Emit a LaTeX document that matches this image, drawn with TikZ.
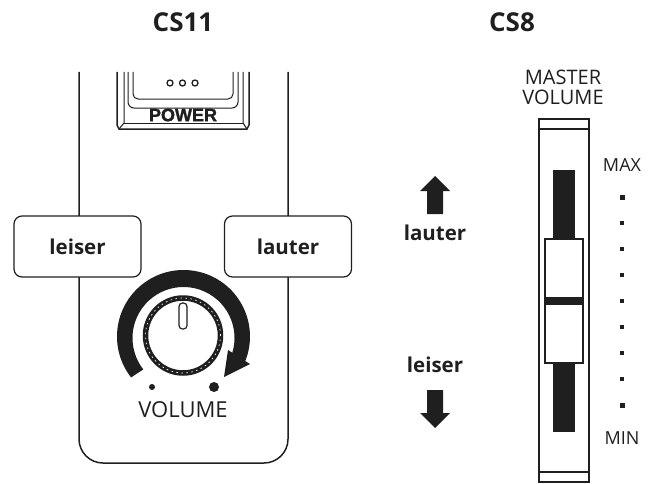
\documentclass[tikz,border=0pt]{standalone}
\usepackage{fontspec}
\usetikzlibrary{calc}
\setmainfont{Open Sans}
\newfontfamily\powerfont[BoldFeatures={FakeBold=1.5}]{Liberation Sans}
\begin{document}
\begin{tikzpicture}[
    x=1pt,y=1pt,
    inkblack/.style={black!88},
    outline/.style={draw=black!88,line width=1.5pt},
    thinline/.style={draw=black!88,line width=1pt},
    title/.style={text=black!88,font=\fontsize{26}{26}\selectfont\bfseries},
    sidelabel/.style={text=black!88,font=\fontsize{20.5}{20.5}\selectfont\bfseries},
    keybox/.style={
      draw=black!88,
      line width=1.2pt,
      fill=white,
      rounded corners=8pt,
      minimum width=127pt,
      minimum height=61pt,
      inner sep=0pt,
      text=black!88,
      font=\fontsize{20.5}{20.5}\selectfont\bfseries
    },
    marking/.style={text=black!88,font=\fontsize{18}{18}\selectfont,inner sep=0pt}
  ]
  \useasboundingbox (0,0) rectangle (652,483);
  \node[title] (cs11) at (183,461) {CS11};
  \node[title] (cs8) at (512,461) {CS8};
  \draw[outline,rounded corners=24pt] (79,411) -- (79,20) -- (288,20) -- (288,411);
  \draw[outline] (117,411) -- (117,358) -- (119,354) -- (247,354) -- (249,358) -- (249,411);
  \draw[thinline] (124,411) -- (124,360) -- (119,354);
  \draw[thinline] (243,411) -- (243,360) -- (247,354);
  \draw[thinline] (124,360) -- (243,360);
  \draw[thinline,rounded corners=6pt] (128,411) -- (128,375) -- (238,375) -- (238,411);
  \draw[thinline,rounded corners=5pt] (133,411) -- (133,384) -- (233,384) -- (233,411);
  \foreach \dotx in {170,182.5,195}
    \draw[line width=1.3pt,draw=black!88] (\dotx,400) circle (3pt);
  \node[inner sep=0pt,text=black!88,font=\powerfont\fontsize{18}{18}\selectfont\bfseries] (power) at (183,368) {POWER};
  \node[keybox] (leiserkey) at (77.5,236.5) {leiser};
  \node[keybox] (lauterkey) at (288,236.5) {lauter};
  \fill[inkblack] (183.5,146.5) ++(218:66.5) arc (218:-24:66.5) -- ($(183.5,145)+(-24:51)$) arc (-24:218:51) -- cycle;
  \fill[inkblack] (224,106) -- (250,119) -- (228,133) -- cycle;
  \draw[line width=5.5pt,draw=black!88] (183,147.5) circle (37.5pt);
  \draw[line width=0.7pt,draw=white,dash pattern=on 1.5pt off 3.5pt] (183,147.5) circle (37.5pt);
  \draw[line width=1.2pt,draw=black!88,rounded corners=3.5pt] (179,180) rectangle (187,154);
  \fill[inkblack] (152,96) circle (3pt);
  \fill[inkblack] (214,96) circle (5pt);
  \node[inner sep=0pt,text=black!88,font=\fontsize{22}{22}\selectfont] (volume) at (183,73) {VOLUME};
  \fill[inkblack] (435,307) -- (450,292) -- (443,292) -- (443,269) -- (427,269) -- (427,292) -- (420,292) -- cycle;
  \node[sidelabel] (lautertext) at (435,250) {lauter};
  \node[sidelabel] (leisertext) at (435,118) {leiser};
  \fill[inkblack] (435,55) -- (450,70) -- (443,70) -- (443,93) -- (427,93) -- (427,70) -- (420,70) -- cycle;
  \node[marking,align=center,font=\fontsize{20}{20}\selectfont] (master) at (563,396) {MASTER\\VOLUME};
  \draw[outline] (539,1) rectangle (589,364);
  \draw[outline] (539,354) -- (589,354);
  \draw[outline] (539,11) -- (589,11);
  \fill[inkblack] (553,244) rectangle (575,313);
  \fill[inkblack] (553,51) rectangle (575,120);
  \draw[outline,fill=white] (545,120) rectangle (583,244);
  \fill[inkblack] (545,178) rectangle (583,186);
  \node[marking] (maxlabel) at (622,318) {MAX};
  \node[marking] (minlabel) at (622,45) {MIN};
  \foreach \ticky in {260,234,208,182,156,130,104}
    \fill[inkblack] (620,\ticky-2) rectangle (624,\ticky+2);
  \foreach \ticky in {286,78}
    \fill[inkblack] (619.5,\ticky-2.5) rectangle (624.5,\ticky+2.5);
\end{tikzpicture}
\end{document}
